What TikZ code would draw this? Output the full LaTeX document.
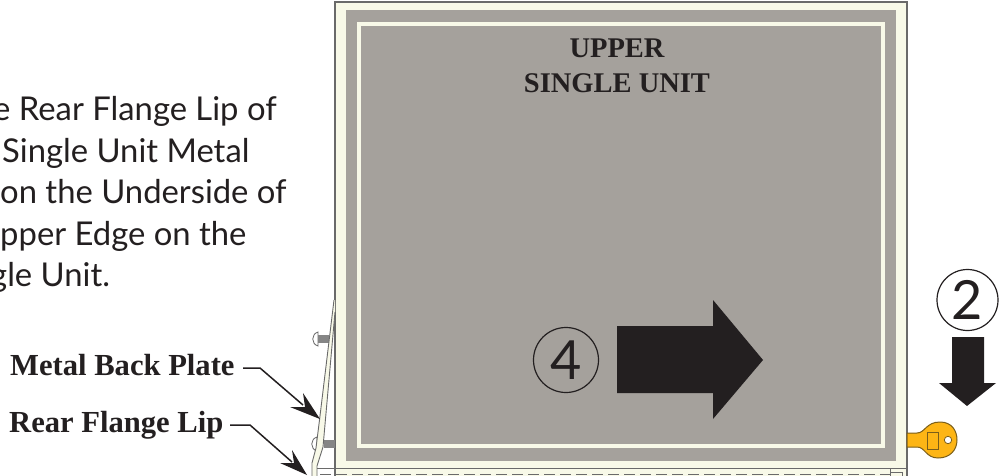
\documentclass[tikz,border=0pt]{standalone}
\usepackage{fontspec}
\setmainfont{Liberation Serif}
\newfontfamily\sansf{Lato}
\definecolor{cream}{HTML}{F8F9E8}
\definecolor{greyp}{HTML}{A5A19C}
\definecolor{edge}{HTML}{6A6A6A}
\definecolor{ink}{HTML}{231F20}
\definecolor{keyc}{HTML}{FDB515}
\definecolor{keyd}{HTML}{7A5E1A}
\definecolor{shank}{HTML}{858585}
\tikzset{
 px/.style={x=1pt,y=-1pt},
 body/.style={font=\sansf\fontsize{32.8}{36}\selectfont,text=ink,anchor=base west,inner sep=0pt},
 lab/.style={font=\bfseries\fontsize{30.6}{34}\selectfont,text=ink,inner sep=0pt,anchor=base west},
 unit/.style={font=\bfseries\fontsize{28.5}{34.5}\selectfont,text=ink,align=center,inner sep=0pt},
 circ/.style={font=\sansf\fontsize{54}{54}\selectfont,text=ink,circle,draw=ink,line width=1.2pt,inner sep=0pt},
 leader/.style={draw=ink,line width=1.5pt},
 tip/.style={fill=ink,draw=none}
}
\begin{document}
\begin{tikzpicture}[px]
\useasboundingbox (0,0) rectangle (1004,476);
% Frame
\fill[cream] (335,2) rectangle (907,476);
\fill[greyp] (346,10) rectangle (896,461);
\draw[cream,line width=4pt] (359,24) rectangle (883,445.5);
\draw[edge,line width=1.2pt] (335,476) -- (335,2) -- (907,2) -- (907,476);
% screws
\foreach \y/\x/\s in {339/318/318,444/317/324}{
 \fill[shank] (\s,\y-4) rectangle (\s+11,\y+4);
 \fill[white,draw=edge,line width=.8pt] (\x,\y-7) .. controls (\x-7,\y-5) and (\x-7,\y+5) .. (\x,\y+7) -- cycle;
}
% back plate
\fill[cream] (334,300) -- (319.5,420) -- (316,448) -- (312,463) -- (312,476) -- (317,476) -- (317,466) -- (323,447) -- (335,312) -- (335,300) -- cycle;
\draw[edge,line width=.9pt] (334,300) -- (319.5,420) -- (316,448) -- (312,463) -- (312,476);
\draw[edge,line width=.9pt] (335,312) -- (323,447) -- (317,466) -- (317,476);
% bottom dashes
\draw[edge,line width=.9pt] (317,468) -- (907,468);
\draw[edge,line width=1pt,dash pattern=on 11pt off 5pt] (320,474) -- (890,474);
\draw[edge,line width=.9pt] (890,468) -- (890,476) (890,472) -- (902,472) -- (902,476);
% Text
\node[body] (t1) at (-7,120.7) {e Rear Flange Lip of};
\node[body] (t2) at (2,163) {Single Unit Metal};
\node[body] (t4) at (0,204) {on the Underside of};
\node[body] (t5) at (0,245.7) {pper Edge on the};
\node[body] (t6) at (-10,286.7) {gle Unit.};
\node[unit] (u) at (617,66) {UPPER\\SINGLE UNIT};
% Big arrow
\fill[ink] (617,326) -- (713,326) -- (713,300) -- (763,360) -- (713,419) -- (713,393) -- (617,393) -- cycle;
\node[circ,minimum size=65pt] (c4) at (566,360) {4};
% Down arrow + 2
\node[circ,minimum size=61pt] (c2) at (967.5,300) {2};
\fill[ink] (952,337) -- (984,337) -- (984,383) -- (996,383) -- (967,406) -- (939,383) -- (952,383) -- cycle;
% Key
\fill[keyc,draw=keyd,line width=1pt] (907,433) -- (917,433) .. controls (925,433) and (926,422) .. (940,422) .. controls (952,422) and (957,431) .. (957,440) .. controls (957,450) and (950,458) .. (938,458) .. controls (926,458) and (925,447) .. (917,447) -- (907,447) -- cycle;
\draw[keyd,line width=1pt] (927,432) rectangle (938,449);
\fill[white,draw=keyd,line width=.8pt] (948,440) circle (3.7);
% Labels
\node[lab] (m) at (10,375) {Metal Back Plate};
\node[lab] (r) at (9,432) {Rear Flange Lip};
\coordinate (m0) at (243,368);
\coordinate (m1) at (260,368);
\coordinate (ma) at (320,419);
\coordinate (mb) at (303,405);
\coordinate (r0) at (230,425);
\coordinate (r1) at (250,425);
\coordinate (ra) at (307,475);
\coordinate (rb) at (292,462);
\draw[leader] (m0) -- (m1) -- (mb);
\draw[leader] (r0) -- (r1) -- (rb);
\fill[tip] (ma) -- (290,407) -- (305,407) -- (303,393) -- cycle;
\fill[tip] (ra) -- (280,463) -- (294,463) -- (292,450) -- cycle;
\end{tikzpicture}
\end{document}
